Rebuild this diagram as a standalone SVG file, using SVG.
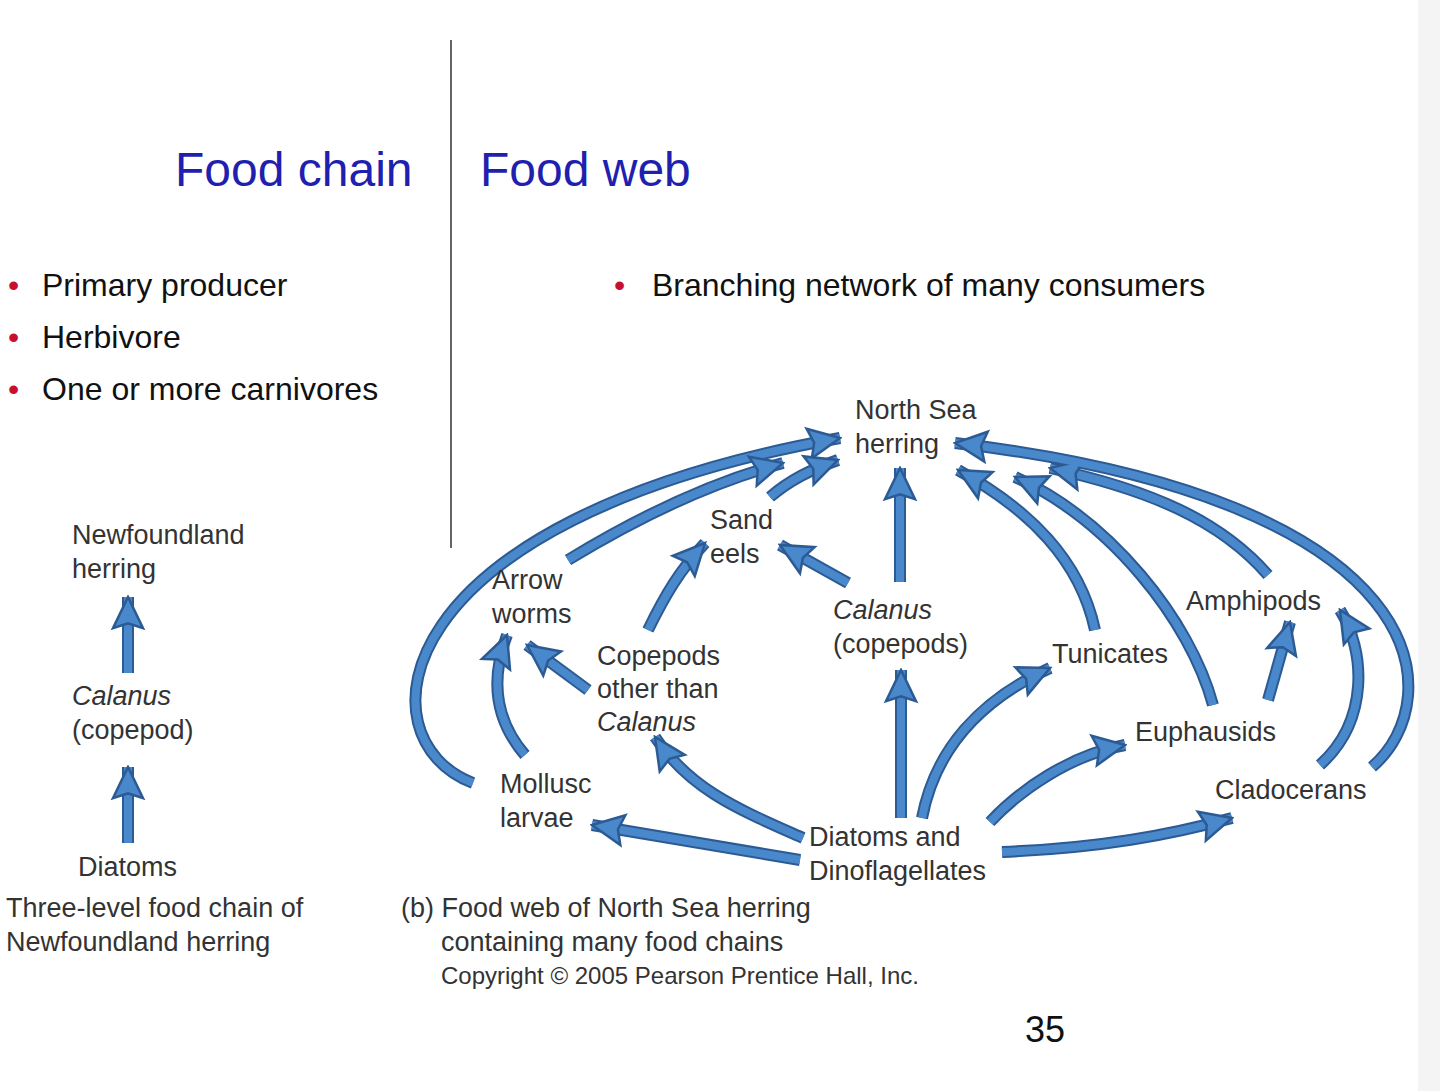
<svg xmlns="http://www.w3.org/2000/svg" width="1440" height="1091" viewBox="0 0 1440 1091">
<style>
text{font-family:"Liberation Sans",Arial,sans-serif;fill:#333}
.t{font-size:48px;fill:#1f1fb0}
.b{font-size:32px;fill:#111}
.r{fill:#c8102e}
.n{font-size:27px}
.i{font-style:italic}
.a{fill:none;stroke:#2c5a93;stroke-width:12;stroke-linecap:butt}
.a2{fill:none;stroke:#4a88cc;stroke-width:8}
</style>
<defs>
<marker id="h" markerUnits="userSpaceOnUse" markerWidth="40" markerHeight="40" viewBox="-30 -15 32 30" refX="0" refY="0" orient="auto">
<path d="M0,0 L-25,-12 L-21,0 L-25,12 Z" fill="#4a88cc" stroke="#2c5a93" stroke-width="2"/>
</marker>
</defs>
<rect width="1440" height="1091" fill="#fff"/>
<rect x="1418" y="0" width="22" height="1091" fill="#f4f4f4"/>
<line x1="451" y1="40" x2="451" y2="548" stroke="#666" stroke-width="2"/>
<text class="t" x="175" y="186">Food chain</text>
<text class="t" x="480" y="186">Food web</text>
<g id="bullets">
<text class="b" x="8" y="296"><tspan class="r">•</tspan></text><text class="b" x="42" y="296">Primary producer</text>
<text class="b" x="8" y="348"><tspan class="r">•</tspan></text><text class="b" x="42" y="348">Herbivore</text>
<text class="b" x="8" y="400"><tspan class="r">•</tspan></text><text class="b" x="42" y="400">One or more carnivores</text>
<text class="b" x="614" y="296"><tspan class="r">•</tspan></text><text class="b" x="652" y="296">Branching network of many consumers</text>
</g>
<g id="connectors">
<g class="a">
<path d="M128,843 L128,767"/><path d="M128,673 L128,597"/>
<path d="M473,783 C360,740 380,520 840,438"/>
<path d="M568,560 C650,510 720,480 783,463"/>
<path d="M770,497 C790,480 810,470 838,460"/>
<path d="M848,583 L780,545"/>
<path d="M648,630 C665,595 680,570 705,543"/>
<path d="M900,582 L900,468"/>
<path d="M1095,630 C1080,560 1030,510 958,470"/>
<path d="M1213,705 C1190,620 1110,520 1015,477"/>
<path d="M1268,575 C1220,520 1150,490 1050,468"/>
<path d="M1372,767 C1450,700 1440,500 955,443"/>
<path d="M588,690 L527,645"/>
<path d="M525,755 C495,720 490,680 507,635"/>
<path d="M803,838 C740,810 690,790 655,737"/>
<path d="M800,860 L592,825"/>
<path d="M901,818 L901,670"/>
<path d="M922,818 C935,750 980,700 1050,668"/>
<path d="M990,822 C1020,790 1070,755 1125,745"/>
<path d="M1002,852 C1100,848 1170,835 1232,818"/>
<path d="M1268,700 L1290,622"/>
<path d="M1320,765 C1370,720 1365,650 1340,610"/>
</g>
<g class="a2" marker-end="url(#h)">
<path d="M128,843 L128,767"/><path d="M128,673 L128,597"/>
<path d="M473,783 C360,740 380,520 840,438"/>
<path d="M568,560 C650,510 720,480 783,463"/>
<path d="M770,497 C790,480 810,470 838,460"/>
<path d="M848,583 L780,545"/>
<path d="M648,630 C665,595 680,570 705,543"/>
<path d="M900,582 L900,468"/>
<path d="M1095,630 C1080,560 1030,510 958,470"/>
<path d="M1213,705 C1190,620 1110,520 1015,477"/>
<path d="M1268,575 C1220,520 1150,490 1050,468"/>
<path d="M1372,767 C1450,700 1440,500 955,443"/>
<path d="M588,690 L527,645"/>
<path d="M525,755 C495,720 490,680 507,635"/>
<path d="M803,838 C740,810 690,790 655,737"/>
<path d="M800,860 L592,825"/>
<path d="M901,818 L901,670"/>
<path d="M922,818 C935,750 980,700 1050,668"/>
<path d="M990,822 C1020,790 1070,755 1125,745"/>
<path d="M1002,852 C1100,848 1170,835 1232,818"/>
<path d="M1268,700 L1290,622"/>
<path d="M1320,765 C1370,720 1365,650 1340,610"/>
</g>
</g>
<g id="newfoundland"><text class="n" x="72" y="544">Newfoundland</text><text class="n" x="72" y="578">herring</text></g>
<g id="calanus1"><text class="n i" x="72" y="705">Calanus</text><text class="n" x="72" y="739">(copepod)</text></g>
<g id="diatoms1"><text class="n" x="78" y="876">Diatoms</text></g>
<text class="n" x="6" y="917">Three-level food chain of</text>
<text class="n" x="6" y="951">Newfoundland herring</text>
<g id="herring"><text class="n" x="855" y="419">North Sea</text><text class="n" x="855" y="453">herring</text></g>
<g id="sandeels"><text class="n" x="710" y="529">Sand</text><text class="n" x="710" y="563">eels</text></g>
<g id="arrowworms"><text class="n" x="492" y="589">Arrow</text><text class="n" x="492" y="623">worms</text></g>
<g id="calanus2"><text class="n i" x="833" y="619">Calanus</text><text class="n" x="833" y="653">(copepods)</text></g>
<g id="copepods"><text class="n" x="597" y="665">Copepods</text><text class="n" x="597" y="698">other than</text><text class="n i" x="597" y="731">Calanus</text></g>
<g id="tunicates"><text class="n" x="1052" y="663">Tunicates</text></g>
<g id="amphipods"><text class="n" x="1186" y="610">Amphipods</text></g>
<g id="euphausids"><text class="n" x="1135" y="741">Euphausids</text></g>
<g id="cladocerans"><text class="n" x="1215" y="799">Cladocerans</text></g>
<g id="mollusc"><text class="n" x="500" y="793">Mollusc</text><text class="n" x="500" y="827">larvae</text></g>
<g id="diatoms2"><text class="n" x="809" y="846">Diatoms and</text><text class="n" x="809" y="880">Dinoflagellates</text></g>
<text class="n" x="401" y="917">(b) Food web of North Sea herring</text>
<text class="n" x="441" y="951">containing many food chains</text>
<text x="441" y="984" style="font-size:24px">Copyright © 2005 Pearson Prentice Hall, Inc.</text>
<text x="1025" y="1042" style="font-size:36px;fill:#111">35</text>
</svg>
